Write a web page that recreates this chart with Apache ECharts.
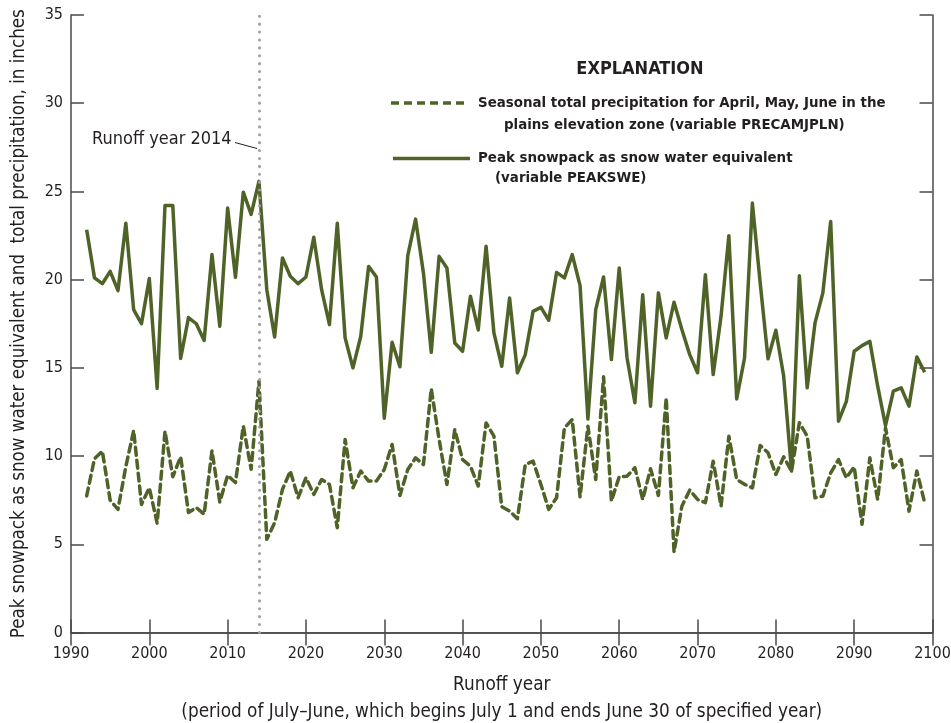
<!DOCTYPE html>
<html>
<head>
<meta charset="utf-8">
<title>Peak snowpack and seasonal precipitation by runoff year</title>
<script src="https://cdn.jsdelivr.net/npm/echarts@6/dist/echarts.min.js"></script>
<style>
  html, body { margin: 0; padding: 0; background: #ffffff; }
  #chart { width: 951px; height: 723px; }
</style>
</head>
<body>
<div id="chart"></div>
<script>
// Runoff years covered by both series
const startYear = 1992;
const endYear = 2099;

// Peak snowpack as snow water equivalent (PEAKSWE), inches, 1992-2099
const peakSWE = [
  22.83, 20.10, 19.77, 20.47, 19.38, 23.20, 18.30, 17.50,               // 1992-1999
  20.06, 13.83, 24.20, 24.20, 15.53, 17.85, 17.50, 16.55, 21.43, 17.36, // 2000s
  24.06, 20.13, 24.96, 23.70, 25.57, 19.43, 16.75, 21.23, 20.19, 19.77, // 2010s
  20.15, 22.40, 19.43, 17.45, 23.20, 16.70, 15.00, 16.79, 20.75, 20.15, // 2020s
  12.15, 16.45, 15.06, 21.36, 23.43, 20.38, 15.88, 21.32, 20.66, 16.41, // 2030s
  15.94, 19.06, 17.15, 21.89, 16.98, 15.09, 18.96, 14.72, 15.75, 18.20, // 2040s
  18.43, 17.70, 20.41, 20.10, 21.42, 19.66, 12.10, 18.30, 20.15, 15.47, // 2050s
  20.66, 15.56, 13.02, 19.15, 12.83, 19.25, 16.70, 18.72, 17.17, 15.75, // 2060s
  14.72, 20.28, 14.62, 17.92, 22.49, 13.24, 15.56, 24.34, 19.81, 15.51, // 2070s
  17.13, 14.52,  9.15, 20.22, 13.87, 17.55, 19.25, 23.30, 11.98, 13.10, // 2080s
  15.94, 16.26, 16.50, 13.96, 11.73, 13.68, 13.87, 12.83, 15.62, 14.75  // 2090s
];

// Seasonal total precipitation for April-June, plains zone (PRECAMJPLN), inches
const precipAMJ = [
   7.74,  9.85, 10.28,  7.50,  6.98,  9.40, 11.45,  7.26,               // 1992-1999
   8.20,  6.20, 11.40,  8.83,  9.96,  6.80,  7.08,  6.70, 10.30,  7.40, // 2000s
   8.90,  8.50, 11.70,  9.25, 14.24,  5.28,  6.22,  8.11,  9.15,  7.64, // 2010s
   8.77,  7.83,  8.67,  8.39,  5.94, 10.94,  8.20,  9.15,  8.58,  8.58, // 2020s
   9.24, 10.66,  7.77,  9.24,  9.90,  9.52, 13.81, 10.94,  8.39, 11.50, // 2030s
   9.80,  9.43,  8.30, 11.88, 11.13,  7.13,  6.88,  6.45,  9.52,  9.71, // 2040s
   8.39,  6.98,  7.64, 11.60, 12.07,  7.69, 11.69,  8.67, 14.49,  7.45, // 2050s
   8.83,  8.86,  9.34,  7.54,  9.28,  7.77, 13.30,  4.56,  7.16,  8.07, // 2060s
   7.54,  7.36,  9.71,  7.16, 11.13,  8.67,  8.40,  8.20, 10.60, 10.19, // 2070s
   8.96,  9.96,  9.15, 11.89, 11.13,  7.64,  7.73,  9.05,  9.80,  8.77, // 2080s
   9.39,  6.13,  9.90,  7.54, 11.60,  9.34,  9.80,  6.88,  9.15,  7.36  // 2090s
];

// Reference runoff year marked with a vertical dotted line
const referenceYear = 2014;

// Axis ranges and tick spacing
const xTicks = { min: 1990, max: 2100, step: 10 };
const yTicks = { min: 0, max: 35, step: 5 };

// Legend entries
const legendTitle = 'EXPLANATION';
const precipLabel = ['Seasonal total precipitation for April, May, June in the',
                     'plains elevation zone (variable PRECAMJPLN)'];
const sweLabel = ['Peak snowpack as snow water equivalent',
                  '(variable PEAKSWE)'];

const years = [];
for (let y = startYear; y <= endYear; y++) years.push(y);

const sweData = years.map((y, i) => [y, peakSWE[i]]);
const precipData = years.map((y, i) => [y, precipAMJ[i]]);

const FONT = '"Liberation Sans Narrow", "DejaVu Sans Condensed", "Roboto Condensed", sans-serif';
const GREEN = '#4f6328';
const AXIS = '#4a4a4a';
const TEXT = '#231f20';

const chart = echarts.init(document.getElementById('chart'), null, { renderer: 'canvas' });

const baseAxis = {
  axisLine: { show: true, lineStyle: { color: AXIS, width: 1.5 } },
  axisTick: { show: true, inside: true, length: 13, lineStyle: { color: AXIS, width: 1.5 } },
  splitLine: { show: false }
};

chart.setOption({
  animation: false,
  backgroundColor: '#ffffff',
  textStyle: { fontFamily: FONT },
  grid: { left: 71, right: 18.5, top: 15, bottom: 90.5, containLabel: false, outerBoundsMode: 'none' },
  xAxis: [
    Object.assign({}, baseAxis, {
      type: 'value', position: 'bottom',
      min: xTicks.min, max: xTicks.max, interval: xTicks.step,
      axisLabel: { color: TEXT, fontSize: 16, fontFamily: FONT, margin: 13, formatter: v => String(v) },
      name: 'Runoff year\n(period of July\u2013June, which begins July 1 and ends June 30 of specified year)',
      nameLocation: 'middle', nameGap: 39,
      nameTextStyle: { color: TEXT, fontSize: 18.8, fontFamily: FONT, lineHeight: 27, verticalAlign: 'top' }
    }),
    Object.assign({}, baseAxis, {
      type: 'value', position: 'top',
      min: xTicks.min, max: xTicks.max, interval: xTicks.step,
      axisLabel: { show: false }
    })
  ],
  yAxis: [
    Object.assign({}, baseAxis, {
      type: 'value', position: 'left',
      min: yTicks.min, max: yTicks.max, interval: yTicks.step,
      axisLabel: { color: TEXT, fontSize: 16, fontFamily: FONT, margin: 8 },
      name: 'Peak snowpack as snow water equivalent and  total precipitation, in inches',
      nameLocation: 'middle', nameGap: 42,
      nameTextStyle: { color: TEXT, fontSize: 18.6, fontFamily: FONT }
    }),
    Object.assign({}, baseAxis, {
      type: 'value', position: 'right',
      min: yTicks.min, max: yTicks.max, interval: yTicks.step,
      axisLabel: { show: false }
    })
  ],
  series: [
    {
      name: 'PRECAMJPLN',
      type: 'line',
      data: precipData,
      showSymbol: false,
      smooth: false,
      lineStyle: { color: GREEN, width: 3.5, type: [8, 5], cap: 'round', join: 'round' },
      z: 2
    },
    {
      name: 'PEAKSWE',
      type: 'line',
      data: sweData,
      showSymbol: false,
      smooth: false,
      lineStyle: { color: GREEN, width: 3.5, type: 'solid', join: 'round' },
      z: 3
    },
    {
      name: 'reference year',
      type: 'line',
      data: [],
      z: 5,
      markLine: {
        silent: true,
        symbol: ['none', 'none'],
        label: { show: false },
        lineStyle: { color: '#a0a0a4', width: 3, type: [0.1, 7.8], cap: 'round' },
        data: [{ xAxis: referenceYear }]
      }
    }
  ],
  graphic: [
    // Annotation for the reference runoff year
    {
      type: 'text', left: 92, top: 130, z: 10,
      style: { text: 'Runoff year ' + referenceYear, fill: TEXT, font: '18px ' + FONT }
    },
    {
      type: 'line', z: 10,
      shape: { x1: 235, y1: 142.5, x2: 257, y2: 148.5 },
      style: { stroke: TEXT, lineWidth: 1 }
    },
    // Legend block
    {
      type: 'text', z: 10, x: 640, y: 69,
      style: { text: legendTitle, fill: TEXT, font: 'bold 18px ' + FONT, align: 'center', verticalAlign: 'middle' }
    },
    {
      type: 'line', z: 10,
      shape: { x1: 391, y1: 103, x2: 468, y2: 103 },
      style: { stroke: GREEN, lineWidth: 3.5, lineDash: [8, 5] }
    },
    {
      type: 'text', z: 10, x: 478, y: 103,
      style: { text: precipLabel[0], fill: TEXT, font: 'bold 14.9px ' + FONT, verticalAlign: 'middle' }
    },
    {
      type: 'text', z: 10, x: 504, y: 125,
      style: { text: precipLabel[1], fill: TEXT, font: 'bold 14.9px ' + FONT, verticalAlign: 'middle' }
    },
    {
      type: 'line', z: 10,
      shape: { x1: 393, y1: 158.5, x2: 470, y2: 158.5 },
      style: { stroke: GREEN, lineWidth: 3.5 }
    },
    {
      type: 'text', z: 10, x: 478, y: 158,
      style: { text: sweLabel[0], fill: TEXT, font: 'bold 14.9px ' + FONT, verticalAlign: 'middle' }
    },
    {
      type: 'text', z: 10, x: 495, y: 178,
      style: { text: sweLabel[1], fill: TEXT, font: 'bold 14.9px ' + FONT, verticalAlign: 'middle' }
    }
  ]
});
</script>
</body>
</html>
